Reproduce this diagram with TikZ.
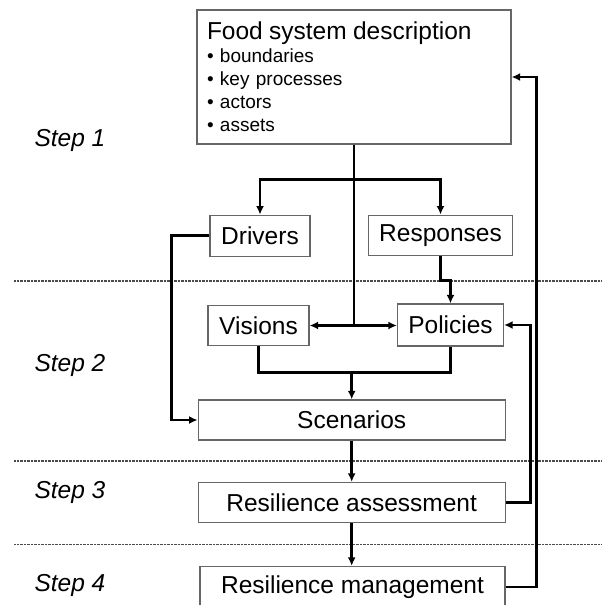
\documentclass[tikz,border=0pt]{standalone}
\usepackage{fontspec}
\setmainfont{Liberation Sans}
\usepackage{tikz}
\usetikzlibrary{arrows.meta,positioning}
\newcommand{\bigtxt}{\fontsize{24.5}{26}\selectfont}
\newcommand{\smalltxt}{\fontsize{19}{23}\selectfont}

\begin{document}
\begin{tikzpicture}[x=1pt,y=-1pt,>={Latex[length=8.5pt,width=8pt]},
    every node/.style={align=center,font=\bigtxt},
    stagebox/.style={draw=black!60,line width=1.3pt,fill=white,inner sep=0pt},
    flow/.style={line width=2.8pt,black},
    divider/.style={draw=black!70,line width=1.6pt,dash pattern=on 1pt off 0.4pt}]
  \useasboundingbox (0,0) rectangle (602,605);
  \draw[divider] (14,280.7) coordinate (div1) -- (602,280.7);
  \draw[divider] (14,461) coordinate (div2) -- (602,461);
  \draw[divider] (14,544.3) coordinate (div3) -- (602,544.3);
  \node[anchor=west,font=\bigtxt\itshape] (step1) at (31,140) {Step 1};
  \node[anchor=west,font=\bigtxt\itshape] (step2) at (31,365) {Step 2};
  \node[anchor=west,font=\bigtxt\itshape] (step3) at (31,492) {Step 3};
  \node[anchor=west,font=\bigtxt\itshape] (step4) at (31,585) {Step 4};
  \node[stagebox,align=left,text width=294pt,inner sep=10pt,minimum height=134pt,font=\smalltxt] (food) at (354,77)
    {{\bigtxt Food system description}\\
     \textbullet\ boundaries\\
     \textbullet\ key processes\\
     \textbullet\ actors\\
     \textbullet\ assets};
  \node[stagebox,minimum width=100pt,minimum height=41pt] (drivers) at (260,235.7) {Drivers};
  \node[stagebox,minimum width=144pt,minimum height=40pt] (responses) at (440.5,235.2) {Responses};
  \node[stagebox,minimum width=101pt,minimum height=40pt] (visions) at (258.5,325.5) {Visions};
  \node[stagebox,minimum width=106pt,minimum height=42pt] (policies) at (450.5,325) {Policies};
  \node[stagebox,minimum width=307pt,minimum height=40pt] (scenarios) at (351.7,420) {Scenarios};
  \node[stagebox,minimum width=307pt,minimum height=40pt] (assess) at (351.7,502.5) {Resilience assessment};
  \node[stagebox,minimum width=305pt,minimum height=41pt] (manage) at (352.5,587) {Resilience management};
  \coordinate (fork) at (food.south |- 0,179.3);
  \coordinate (hub) at (food.south |- visions.east);
  \coordinate (merge) at (scenarios.north |- 0,372.7);
  \draw[flow] (food.south) -- (hub);
  \draw[flow,->] (fork) -| (drivers.north);
  \draw[flow,->] (fork) -| (responses.north);
  \draw[flow,->] (hub) -- (visions.east);
  \draw[flow,->] (hub) -- (hub -| policies.west);
  \draw[flow,->] (responses.south) -- (responses.south |- div1) -| (policies.north);
  \draw[flow] (visions.south) |- (merge) -| (policies.south);
  \draw[flow,->] (merge) -- (scenarios.north);
  \draw[flow,->] (drivers.west) -- ++(-38,0) |- (scenarios.west);
  \draw[flow,->] (scenarios.south) -- (assess.north);
  \draw[flow,->] (assess.south) -- (assess.south |- manage.north);
  \draw[flow,->] (assess.east) -- ++(25,0) |- (policies.east);
  \draw[flow,->] (manage.east) -- ++(31,0) |- (food.east);
\end{tikzpicture}
\end{document}
